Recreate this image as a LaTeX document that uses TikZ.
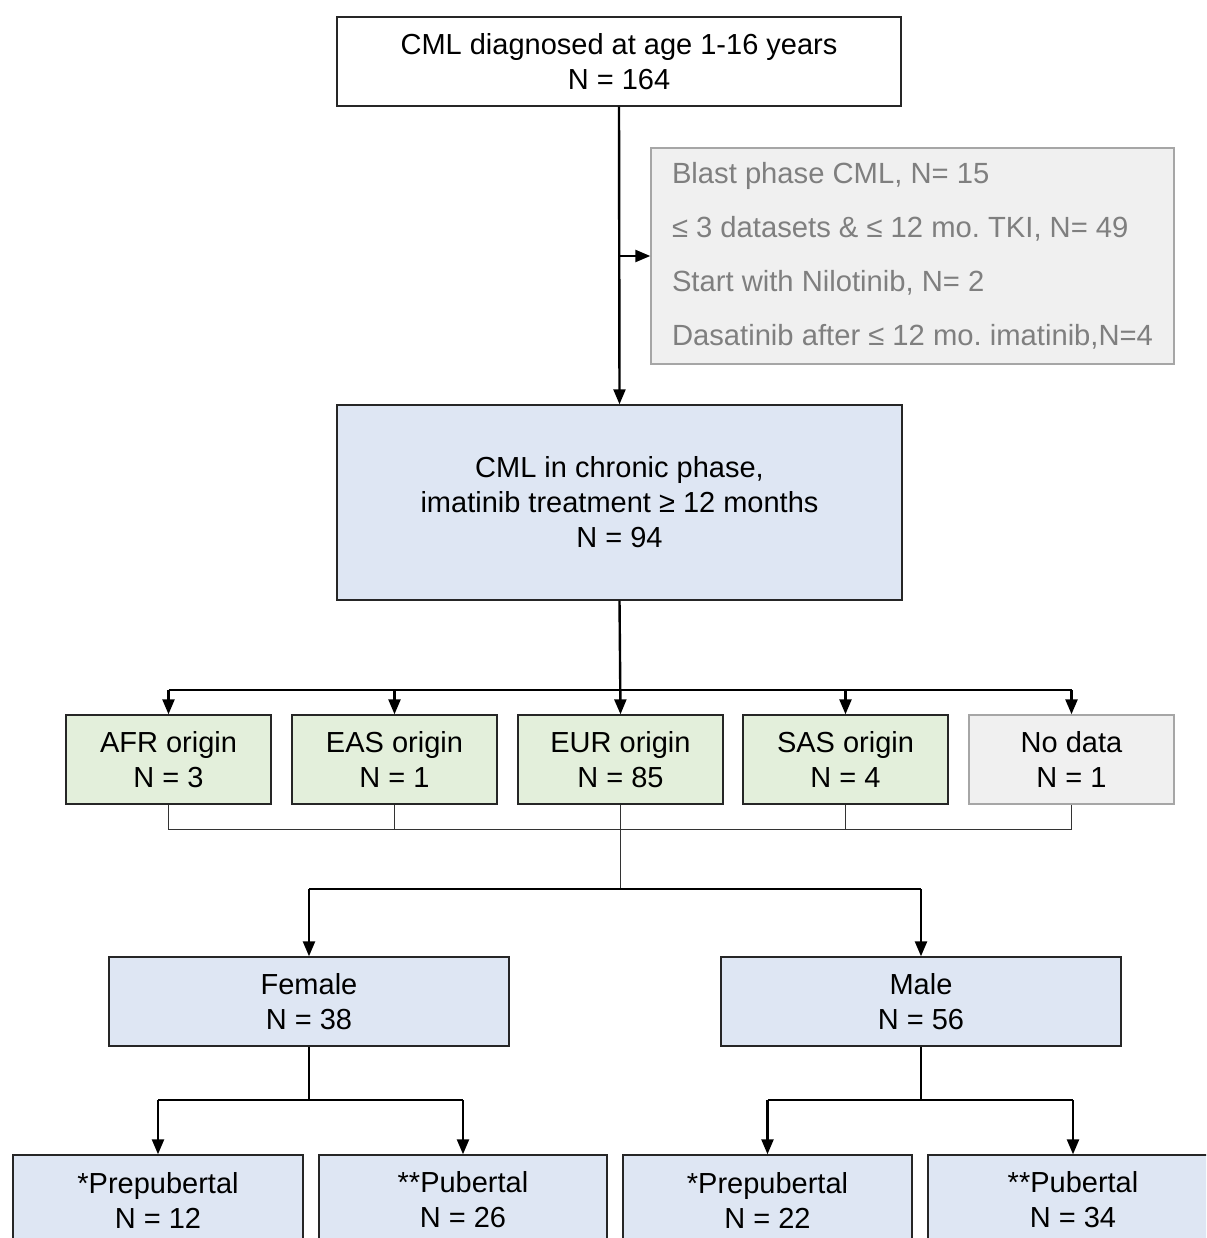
\documentclass[tikz,border=0pt]{standalone}
\usepackage{fontspec}
\setmainfont{Liberation Sans}
\usetikzlibrary{arrows.meta}
\definecolor{blueF}{HTML}{DEE6F3}
\definecolor{greenF}{HTML}{E3EFDB}
\definecolor{grayF}{HTML}{F0F0F0}
\definecolor{grayD}{HTML}{A6A6A6}
\definecolor{grayT}{HTML}{7F7F7F}
\begin{document}
\frenchspacing
\begin{tikzpicture}[x=1pt,y=-1pt,
  base/.style={draw=black!85, line width=1.4pt, align=center, inner sep=0pt,
    font=\fontsize{29}{35}\selectfont},
  whitebox/.style={base, fill=white},
  bluebox/.style={base, fill=blueF},
  greenbox/.style={base, fill=greenF, minimum width=205pt, minimum height=89pt},
  graybox/.style={base, fill=grayF, draw=grayD},
  arr/.style={line width=2.4pt, -{Triangle[width=12pt,length=15pt]}},
  hline/.style={line width=1.6pt},
  thinline/.style={line width=0.9pt, draw=black!80}]
\useasboundingbox (0,0) rectangle (1206,1238);
\fill[white] (0,0) rectangle (1206,1238);
\clip (0,0) rectangle (1206,1238);

\node[whitebox, minimum width=564pt, minimum height=89pt] (top) at (619,61.5)
  {CML diagnosed at age 1-16 years\\N = 164};
\node[graybox, minimum width=523pt, minimum height=216pt,
  align=left, font=\fontsize{29.2}{54}\selectfont, text=grayT] (excl) at (912.5,256)
  {Blast phase CML, N= 15\\
   ≤ 3 datasets \& ≤ 12 mo. TKI, N= 49\\
   Start with Nilotinib, N= 2\\
   Dasatinib after ≤ 12 mo. imatinib,N=4};
\node[bluebox, minimum width=565pt, minimum height=195pt] (mid) at (619.5,502.5)
  {CML in chronic phase,\\imatinib treatment ≥ 12 months\\N = 94};

\node[greenbox] (afr) at (168.5,759.5) {AFR origin\\N = 3};
\node[greenbox] (eas) at (394.5,759.5) {EAS origin\\N = 1};
\node[greenbox] (eur) at (620.5,759.5) {EUR origin\\N = 85};
\node[greenbox] (sas) at (845.5,759.5) {SAS origin\\N = 4};
\node[graybox, minimum width=205pt, minimum height=89pt] (nod) at (1071.5,759.5) {No data\\N = 1};

\node[bluebox, minimum width=400pt, minimum height=89pt] (fem) at (309,1001.5) {Female\\N = 38};
\node[bluebox, minimum width=400pt, minimum height=89pt] (male) at (921,1001.5) {Male\\N = 56};

\node[bluebox, minimum width=290pt, minimum height=90pt] (fpre) at (158,1200) {*Prepubertal\\N = 12};
\node[bluebox, minimum width=288pt, minimum height=90pt] (fpub) at (463,1200) {**Pubertal\\N = 26};
\node[bluebox, minimum width=289pt, minimum height=90pt] (mpre) at (767.5,1200) {*Prepubertal\\N = 22};
\node[bluebox, minimum width=290pt, minimum height=90pt] (mpub) at (1073,1200) {**Pubertal\\N = 34};

% top to middle
\draw[arr] (top.south) -- (mid.north);
\coordinate (br) at (620,256);
\draw[arr] (br) -- (excl.west |- br);

% middle to origins
\coordinate (h1) at (620,690);
\draw[arr] (mid.south) -- (eur.north);
\draw[hline] (afr.north |- h1) -- (nod.north |- h1);
\foreach \n in {afr,eas,sas,nod}
  \draw[arr] (\n.north |- h1) -- (\n.north);

% origins join
\coordinate (h2) at (620,829);
\draw[thinline] (afr.south) -- (afr.south |- h2) -- (nod.south |- h2) -- (nod.south);
\draw[thinline] (eas.south) -- (eas.south |- h2);
\draw[thinline] (sas.south) -- (sas.south |- h2);
\coordinate (h3) at (620,889);
\draw[thinline] (eur.south) -- (eur.south |- h3);
\draw[hline] (fem.north |- h3) -- (male.north |- h3);
\draw[arr] (fem.north |- h3) -- (fem.north);
\draw[arr] (male.north |- h3) -- (male.north);

% sex to puberty
\coordinate (h4) at (620,1100);
\draw[line width=2.4pt] (fem.south) -- (fem.south |- h4);
\draw[line width=2.4pt] (male.south) -- (male.south |- h4);
\draw[hline] (fpre.north |- h4) -- (fpub.north |- h4);
\draw[hline] (mpre.north |- h4) -- (mpub.north |- h4);
\foreach \n in {fpre,fpub,mpre,mpub}
  \draw[arr] (\n.north |- h4) -- (\n.north);
\end{tikzpicture}
\end{document}
